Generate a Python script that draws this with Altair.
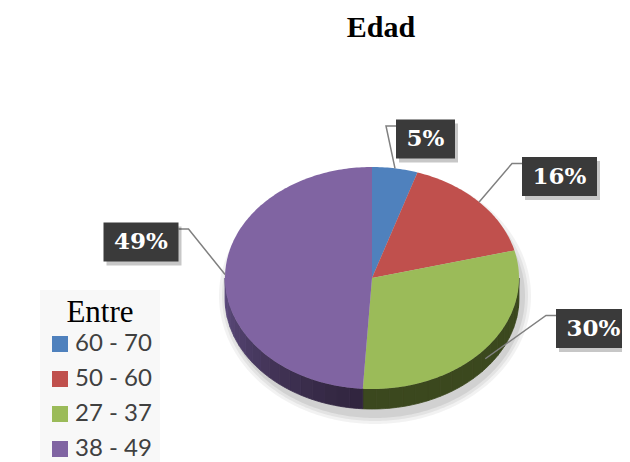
import math
import altair as alt
import pandas as pd

# ---- data ----
categories = ["60 - 70", "50 - 60", "27 - 37", "38 - 49"]
percent = [5, 16, 30, 49]
labels = ["5%", "16%", "30%", "49%"]

# ---- styles ----
top_colors = ["#4f81bd", "#c0504d", "#9bbb59", "#8064a2"]
side_dark = ["#2c4668", "#6a2c2a", "#3b481e", "#30243d"]
side_light = ["#3e5f8c", "#8c3c39", "#55692c", "#604e82"]

# ---- layout (pixels of the plot area) ----
TOP = 40
W, H = 614, 454 - TOP
CX, CY, RX, RY, DEPTH = 364, 270 - TOP, 147, 111, 20
label_dx = [53.5, 187.5, 221.5, -231]
label_dy = [-139, -101.5, 50.5, -36]
BOX_H = 39


def ept(theta, drop=0.0, grow=0.0):
    t = math.radians(theta)
    return CX + (RX + grow) * math.sin(t), CY - (RY + grow) * math.cos(t) + drop


def arc(a, b, drop=0.0, grow=0.0):
    n = max(2, int(abs(b - a)) + 1)
    return [ept(a + (b - a) * k / (n - 1), drop, grow) for k in range(n)]


def mix(c1, c2, f):
    a = [int(c1[i:i + 2], 16) for i in (1, 3, 5)]
    b = [int(c2[i:i + 2], 16) for i in (1, 3, 5)]
    return "#" + "".join(f"{round(x + (y - x) * f):02x}" for x, y in zip(a, b))


total = sum(percent)
angles = []
cum = 0
for v in percent:
    angles.append((cum / total * 360, (cum + v) / total * 360))
    cum += v

# top faces
top_rows = []
for cat, (a, b) in zip(categories, angles):
    pts = [(CX, CY)] + arc(a, b) + [(CX, CY)]
    for i, (x, y) in enumerate(pts):
        top_rows.append({"cat": cat, "i": i, "x": x, "y": y})
top_df = pd.DataFrame(top_rows)

# visible side faces, shaded in small segments
side_rows = []
seg = 0
for cat, dk, lt, (a, b) in zip(categories, side_dark, side_light, angles):
    lo, hi = max(a, 90), min(b, 270)
    if lo >= hi:
        continue
    n = max(1, int((hi - lo) / 5))
    for s in range(n):
        s0 = lo + (hi - lo) * s / n
        s1 = lo + (hi - lo) * (s + 1) / n
        m = (s0 + s1) / 2
        f = min(1.0, max(0.0, (m - 180) / 90)) ** 1.3
        col = mix(dk, lt, f)
        pts = arc(s0, s1) + arc(s1, s0, drop=DEPTH)
        pts.append(pts[0])
        for i, (x, y) in enumerate(pts):
            side_rows.append({"seg": seg, "col": col, "i": i, "x": x, "y": y})
        seg += 1
side_df = pd.DataFrame(side_rows)

# soft shadow below / right of the pie
shadow_rows = []
for k, (grow, op) in enumerate([(9, 0.05), (6, 0.06), (3, 0.08)]):
    for j in range(361):
        t = math.radians(j)
        shadow_rows.append({
            "k": k, "op": op, "i": j,
            "x": CX + 3 + (RX + grow) * math.sin(t),
            "y": CY + DEPTH / 2 + 8 - (RY + DEPTH / 2 + grow - 2) * math.cos(t)})
shadow_df = pd.DataFrame(shadow_rows)

# labels and leader lines
lab_rows, lead_rows = [], []
for lab, (a, b), dx, dy in zip(labels, angles, label_dx, label_dy):
    X, Y = CX + dx, CY + dy
    w = 27 + 16 * len(lab)
    lab_rows.append({"label": lab, "x": X, "y": Y,
                     "x1": X - w / 2, "x2": X + w / 2,
                     "y1": Y - BOX_H / 2, "y2": Y + BOX_H / 2})
    mid = (a + b) / 2
    sx, sy = ept(mid, drop=DEPTH / 2 if 90 < mid < 270 else 0)
    by = Y - BOX_H / 2 + 6.5
    if dx > 0:
        bx = X - w / 2
        ex = bx - 10
    else:
        bx = X + w / 2
        ex = bx + 10
    for i, (x, y) in enumerate([(sx, sy), (ex, by), (bx, by)]):
        lead_rows.append({"label": lab, "i": i, "x": x, "y": y})
lab_df = pd.DataFrame(lab_rows)
lead_df = pd.DataFrame(lead_rows)

xs = alt.Scale(domain=[0, W], nice=False, zero=False)
ys = alt.Scale(domain=[0, H], nice=False, zero=False, reverse=True)


def X_(f="x"):
    return alt.X(f"{f}:Q", scale=xs, axis=None)


def Y_(f="y"):
    return alt.Y(f"{f}:Q", scale=ys, axis=None)


shadow = alt.Chart(shadow_df).mark_line(filled=True, strokeWidth=0, color="#000").encode(
    x=X_(), y=Y_(), detail="k:N", order="i:Q",
    opacity=alt.Opacity("op:Q", scale=None))

sides = alt.Chart(side_df).mark_line(filled=True, strokeWidth=0.8).encode(
    x=X_(), y=Y_(), detail="seg:N", order="i:Q",
    fill=alt.Fill("col:N", scale=None),
    stroke=alt.Stroke("col:N", scale=None))

tops = alt.Chart(top_df).mark_line(filled=True, strokeWidth=0).encode(
    x=X_(), y=Y_(), detail="cat:N", order="i:Q",
    fill=alt.Fill("cat:N", scale=alt.Scale(domain=categories, range=top_colors),
                  sort=categories,
                  legend=alt.Legend(
                      title="Entre", orient="none", legendX=32, legendY=282 - TOP,
                      direction="vertical",
                      titleFont="Liberation Serif", titleFontSize=31,
                      titleFontWeight="normal", titleColor="#000000",
                      titleAnchor="middle", titlePadding=3,
                      labelFont="Lato", labelFontSize=24, labelColor="#404040",
                      symbolType="square", symbolSize=256, symbolStrokeWidth=0,
                      rowPadding=11, labelOffset=3, padding=8,
                      fillColor="#f8f8f8")))

leaders = alt.Chart(lead_df).mark_line(color="#808080", strokeWidth=1.5).encode(
    x=X_(), y=Y_(), detail="label:N", order="i:Q")

box_shadow = alt.Chart(lab_df).transform_calculate(
    sx1="datum.x1 + 3", sx2="datum.x2 + 3", sy1="datum.y1 + 4", sy2="datum.y2 + 4"
).mark_rect(color="#000000", opacity=0.22).encode(
    x=X_("sx1"), x2="sx2:Q", y=Y_("sy1"), y2="sy2:Q")

boxes = alt.Chart(lab_df).mark_rect(color="#3a3a3a").encode(
    x=X_("x1"), x2="x2:Q", y=Y_("y1"), y2="y2:Q")

texts = alt.Chart(lab_df).mark_text(
    font="DejaVu Serif", fontWeight="bold", fontSize=23, color="#ffffff",
    baseline="middle", align="center").encode(
    x=X_(), y=Y_(), text="label:N")

chart = alt.layer(shadow, sides, tops, leaders, box_shadow, boxes, texts).properties(
    width=W, height=H,
    autosize=alt.AutoSizeParams(type="none"),
    padding={"top": TOP, "left": 0, "right": 0, "bottom": 0},
    title=alt.Title("Edad", font="Liberation Serif", fontSize=30, fontWeight="bold",
                    color="#000000", anchor="middle", dx=66, offset=5),
).configure_view(strokeWidth=0)

chart.save("out.html", embed_options={"renderer": "svg", "actions": False})
